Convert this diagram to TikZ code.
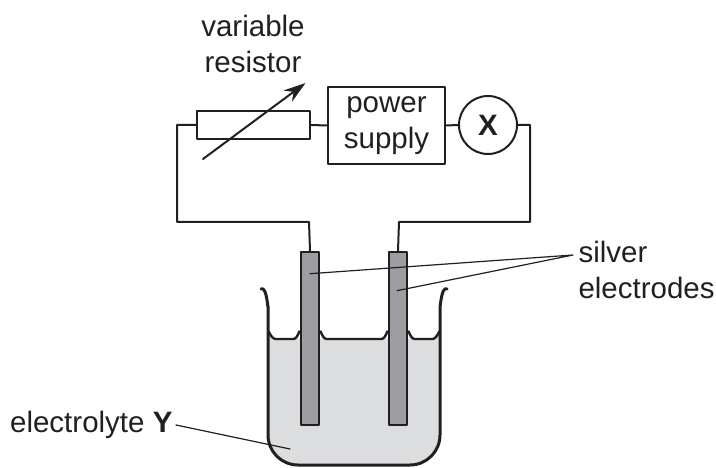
\documentclass[tikz,border=0pt]{standalone}
\usepackage{fontspec}
\setmainfont{Liberation Sans}
\usetikzlibrary{arrows.meta,positioning,calc}
\definecolor{liquid}{HTML}{DCDDDF}
\definecolor{silver}{HTML}{9C9EA1}
\definecolor{ink}{HTML}{231F20}
\begin{document}
\begin{tikzpicture}[x=1pt,y=-1pt,line join=round,line cap=round,>=Stealth,
        font=\fontsize{29.5}{36}\selectfont,color=ink,
        part/.style={draw=ink,line width=2pt,inner sep=0pt},
        wire/.style={draw=ink,line width=2pt},
        glass/.style={draw=ink,line width=3pt},
        rod/.style={draw=ink,line width=2.6pt,fill=silver,minimum width=18pt,minimum height=173pt,inner sep=0pt},
        leader/.style={draw=ink,line width=1.2pt}]
    \useasboundingbox (0,0) rectangle (716,468);
    % liquid
    \fill[liquid] (268,333) to[out=90,in=180] (274,339) -- (434,339) to[out=0,in=90] (440,333)
        -- (440,435) arc[start angle=0,end angle=90,radius=30] -- (298,465)
        arc[start angle=90,end angle=180,radius=30] -- cycle;
    % circuit parts
    \node[part,minimum width=113pt,minimum height=28pt] (res) at (253.5,125) {};
    \node[part,minimum width=117pt,minimum height=77pt,align=center] (psu) at (386.5,125.5) {power\\supply};
    \node[part,circle,minimum size=58pt] (meter) at (488,125) {\textbf{X}};
    \node[rod] (left) at (310,338.5) {};
    \node[rod] (right) at (398,338.5) {};
    \node[align=center] (reslbl) at (253,44) {variable\\resistor};
    \draw[line width=2pt,-{Stealth[length=22pt,width=14pt]}] ($(res.center)+(-50.5,34)$) -- ($(res.center)+(52,-42)$);
    % wires
    \draw[wire] (res.east) -- (psu.west)
        (psu.east) -- (meter.west);
    \draw[wire] (res.west) -- ++(-19,0) |- ++(132,97) -- (left.north);
    \draw[wire] (meter.east) -- ++(12,0) |- ++(-131,97) -- (right.north);
    % beaker
    \draw[glass] (261,289) to[out=30,in=-90] (268,306) -- (268,435)
        arc[start angle=180,end angle=90,radius=30] -- (410,465)
        arc[start angle=90,end angle=0,radius=30] -- (440,306)
        to[out=-90,in=150] (447,289);
    % surface
    \draw[line width=2.4pt]
        (268,332) to[out=90,in=180] (275,339) -- (294,339) to[out=0,in=90] (left.west |- 0,332)
        (left.east |- 0,332) to[out=90,in=180] (326,339) -- (382,339) to[out=0,in=90] (right.west |- 0,332)
        (right.east |- 0,332) to[out=90,in=180] (414,339) -- (433,339) to[out=0,in=90] (440,332);
    % labels
    \node[align=left,anchor=west] (silverlbl) at (575,270) {silver\\electrodes};
    \coordinate (tip) at (573,255);
    \draw[leader] (tip) -- ($(left.north)+(0,23)$)
        (tip) -- ($(right.north)+(-1,40)$);
    \node[anchor=east] (ylbl) at (176,425) {electrolyte \textbf{Y}};
    \draw[leader] (ylbl.east) -- (290,449);
\end{tikzpicture}
\end{document}
